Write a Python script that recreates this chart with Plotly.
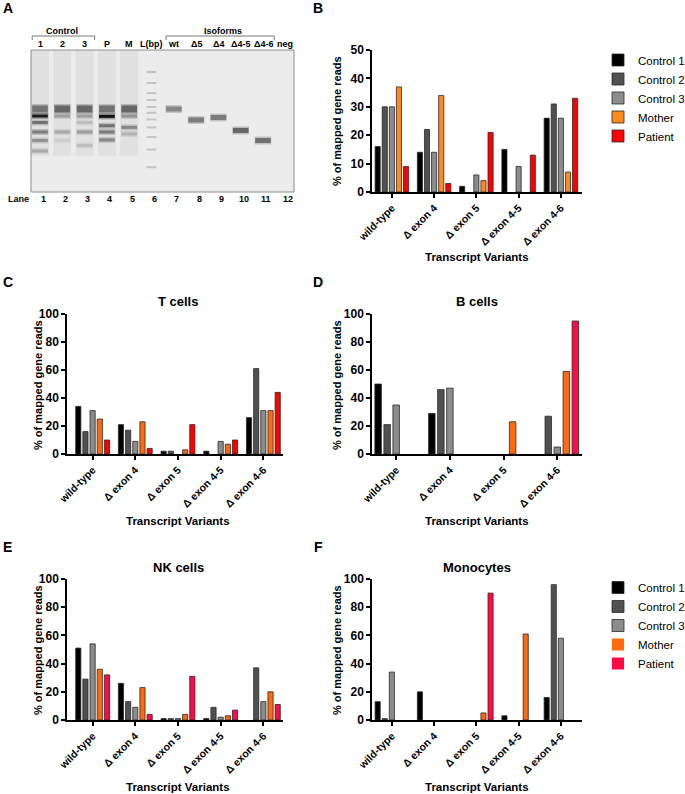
import plotly.graph_objects as go

W, H = 685, 794
FONT = "Arial, Liberation Sans, sans-serif"

# ---------------- data ----------------
variants = ["wild-type", "Δ exon 4", "Δ exon 5", "Δ exon 4-5", "Δ exon 4-6"]
variants_bcells = ["wild-type", "Δ exon 4", "Δ exon 5", "Δ exon 4-6"]
samples = ["Control 1", "Control 2", "Control 3", "Mother", "Patient"]

# B: whole blood (y max 50)
total_control1 = [16, 14, 2, 15, 26]
total_control2 = [30, 22, 0, 0, 31]
total_control3 = [30, 14, 6, 9, 26]
total_mother = [37, 34, 4, 0, 7]
total_patient = [9, 3, 21, 13, 33]

# C: T cells
tcell_control1 = [34, 21, 2, 2, 26]
tcell_control2 = [16, 17, 2, 0, 61]
tcell_control3 = [31, 9, 0, 9, 31]
tcell_mother = [25, 23, 3, 7, 31]
tcell_patient = [10, 4, 21, 10, 44]

# D: B cells (no exon 4-5 column)
bcell_control1 = [50, 29, 0, 0]
bcell_control2 = [21, 46, 0, 27]
bcell_control3 = [35, 47, 0, 5]
bcell_mother = [0, 0, 23, 59]
bcell_patient = [0, 0, 0, 95]

# E: NK cells
nk_control1 = [51, 26, 1, 1, 0]
nk_control2 = [29, 13, 1, 9, 37]
nk_control3 = [54, 9, 1, 2, 13]
nk_mother = [36, 23, 4, 3, 20]
nk_patient = [32, 4, 31, 7, 11]

# F: Monocytes
mono_control1 = [13, 20, 0, 3, 16]
mono_control2 = [1, 0, 0, 0, 96]
mono_control3 = [34, 0, 0, 0, 58]
mono_mother = [0, 0, 5, 61, 0]
mono_patient = [0, 0, 90, 0, 0]

# A: gel
lane_numbers = list(range(1, 13))
lane_headers = ["1", "2", "3", "P", "M", "L(bp)", "wt", "Δ5", "Δ4", "Δ4-5", "Δ4-6", "neg"]
band_lane = [1, 1, 1, 1, 1, 1, 2, 2, 2, 2, 3, 3, 3, 3, 3, 4, 4, 4, 4, 4, 5, 5, 5, 5, 7, 8, 9, 10, 11]
band_bp = [764, 650, 560, 450, 370, 290, 764, 650, 450, 370, 764, 650, 560, 450, 330,
           764, 645, 520, 450, 375, 764, 650, 500, 430, 764, 593, 628, 466, 370]
band_intensity = [0.55, 0.95, 0.55, 0.5, 0.4, 0.3, 0.6, 0.35, 0.3, 0.12, 0.6, 0.35, 0.2, 0.35, 0.2,
                  0.55, 1.0, 0.55, 0.5, 0.45, 0.6, 0.4, 0.45, 0.25, 0.45, 0.5, 0.5, 0.6, 0.55]
band_kind = ["broad", "sharp", "sharp", "sharp", "sharp", "sharp", "broad", "sharp", "sharp", "sharp",
             "broad", "sharp", "sharp", "sharp", "sharp", "broad", "sharp", "sharp", "sharp", "sharp",
             "broad", "sharp", "sharp", "sharp", "iso", "iso", "iso", "iso", "iso"]
ladder_bp = [1790, 1390, 1100, 940, 800, 700, 600, 500, 400, 300, 200]
ladder_labels = [800, 700, 600, 500, 400, 300, 200]
band_names = ["1", "2", "4", "5"]
band_names_bp = [665, 545, 440, 350]

band_width = {"broad": 7, "sharp": 3, "iso": 5}


def fx(px):
    return px / W


def fy(px):
    return 1 - px / H


fig = go.Figure()

# ---------------- gel (panel A) ----------------
for lane in [1, 2, 3, 4, 5]:
    fig.add_trace(go.Scatter(x=[lane, lane], y=[260, 2900], mode="lines",
                             line=dict(color="rgba(0,0,0,0.05)", width=18),
                             xaxis="x", yaxis="y", showlegend=False, hoverinfo="skip"))

for lane, bp, inten, kind in zip(band_lane, band_bp, band_intensity, band_kind):
    v = int(round(232 - 215 * inten))
    w = band_width[kind]
    fig.add_trace(go.Scatter(x=[lane - 0.37, lane + 0.37], y=[bp, bp], mode="lines",
                             line=dict(color=f"rgba({v},{v},{v},0.35)", width=w + 3),
                             xaxis="x", yaxis="y", showlegend=False, hoverinfo="skip"))
    fig.add_trace(go.Scatter(x=[lane - 0.35, lane + 0.35], y=[bp, bp], mode="lines",
                             line=dict(color=f"rgb({v},{v},{v})", width=w),
                             xaxis="x", yaxis="y", showlegend=False, hoverinfo="skip"))

for bp in ladder_bp:
    fig.add_trace(go.Scatter(x=[5.78, 6.22], y=[bp, bp], mode="lines",
                             line=dict(color="#c4c4c4", width=2),
                             xaxis="x", yaxis="y", showlegend=False, hoverinfo="skip"))

annotations = []
gel_font = dict(family=FONT, size=9, color="black", weight="bold")

for lane, lab in zip(lane_numbers, lane_headers):
    annotations.append(dict(x=lane, y=fy(44), xref="x", yref="paper", text=lab, showarrow=False,
                            font=gel_font, xanchor="center", yanchor="middle"))
    annotations.append(dict(x=lane, y=fy(199), xref="x", yref="paper", text=str(lane), showarrow=False,
                            font=gel_font, xanchor="center", yanchor="middle", xshift=3))
annotations.append(dict(x=fx(18), y=fy(199), xref="paper", yref="paper", text="Lane", showarrow=False,
                        font=gel_font, xanchor="center", yanchor="middle"))
annotations.append(dict(x=2, y=fy(31), xref="x", yref="paper", text="Control", showarrow=False,
                        font=gel_font, xanchor="center", yanchor="middle"))
annotations.append(dict(x=9.2, y=fy(31), xref="x", yref="paper", text="Isoforms", showarrow=False,
                        font=gel_font, xanchor="center", yanchor="middle"))
for lab, bp in zip(band_names, band_names_bp):
    annotations.append(dict(x=0.6, y=bp, xref="x", yref="y", text=lab, showarrow=False,
                            font=gel_font, xanchor="right", yanchor="middle", xshift=-1))
annotations.append(dict(x=3.6, y=520, xref="x", yref="y", text="3*", showarrow=False,
                        font=gel_font, xanchor="center", yanchor="middle"))
for bp in ladder_labels:
    annotations.append(dict(x=6.25, y=bp, xref="x", yref="y", text=str(bp), showarrow=False,
                            font=dict(family=FONT, size=8, color="#555"), xanchor="center",
                            yanchor="middle"))

shapes = [
    dict(type="rect", xref="x domain", yref="y domain", x0=0, x1=1, y0=0, y1=1,
         fillcolor="#ececec", line=dict(color="#8c8c8c", width=1), layer="below"),
]
for x0, x1 in [(0.65, 3.45), (6.65, 11.5)]:
    shapes.append(dict(type="path", xref="x", yref="paper",
                       path=f"M {x0},{fy(40)} L {x0},{fy(36)} L {x1},{fy(36)} L {x1},{fy(40)}",
                       line=dict(color="#777", width=1)))

# ---------------- bar panels ----------------
colors_grey = ["#000000", "#505050", "#8c8c8c"]
panels = [
    # axis suffix, categories, series, mother colour, patient colour, legend
    ("2", variants, [total_control1, total_control2, total_control3, total_mother, total_patient],
     "#ff8a1c", "#ff0000", "legend"),
    ("3", variants, [tcell_control1, tcell_control2, tcell_control3, tcell_mother, tcell_patient],
     "#ff6a10", "#ff0000", None),
    ("4", variants_bcells, [bcell_control1, bcell_control2, bcell_control3, bcell_mother, bcell_patient],
     "#ff6a10", "#ff0a45", None),
    ("5", variants, [nk_control1, nk_control2, nk_control3, nk_mother, nk_patient],
     "#ff6a10", "#ff0a45", None),
    ("6", variants, [mono_control1, mono_control2, mono_control3, mono_mother, mono_patient],
     "#ff6a10", "#ff0a45", "legend2"),
]

for suffix, cats, series, c_mother, c_patient, leg in panels:
    cols = colors_grey + [c_mother, c_patient]
    for name, vals, col in zip(samples, series, cols):
        # no outline on empty bars so they stay invisible
        edge = [0 if v == 0 else 0.8 for v in vals]
        fig.add_trace(go.Bar(
            x=cats, y=vals, name=name, marker=dict(color=col, line=dict(color="#2a2a2a", width=edge)),
            xaxis="x" + suffix, yaxis="y" + suffix,
            showlegend=leg is not None, legend=leg if leg else "legend",
        ))

tick_font = dict(family=FONT, size=12, color="black", weight="bold")
cat_font = dict(family=FONT, size=10.5, color="black", weight="bold")


def xaxis_bar(left, right, anchor, rng):
    return dict(domain=[fx(left), fx(right)], anchor=anchor, type="category", range=rng,
                showline=True, linecolor="black", linewidth=1.5, ticks="outside", ticklen=4,
                tickwidth=1.5, tickcolor="black", showgrid=False, zeroline=False, tickangle=-45,
                tickfont=cat_font, automargin=False)


def yaxis_bar(top, bottom, anchor, ymax, dtick):
    return dict(domain=[fy(bottom), fy(top)], anchor=anchor, range=[0, ymax], dtick=dtick,
                showline=True, linecolor="black", linewidth=1.5, ticks="outside", ticklen=4,
                tickwidth=1.5, tickcolor="black", showgrid=False, zeroline=False, tickfont=tick_font,
                automargin=False)


title_font = dict(family=FONT, size=13, color="black", weight="bold")
lab_font = dict(family=FONT, size=11, color="black", weight="bold")

# y-axis titles, x-axis titles, panel titles
for xc, yc in [(337, 121), (38, 385), (337, 385), (38, 650), (337, 650)]:
    annotations.append(dict(x=fx(xc), y=fy(yc), xref="paper", yref="paper", text="% of mapped gene reads",
                            textangle=-90, showarrow=False, font=lab_font, xanchor="center", yanchor="middle"))
for xc, yc in [(477, 257), (178, 521), (477, 521), (178, 787), (477, 787)]:
    annotations.append(dict(x=fx(xc), y=fy(yc), xref="paper", yref="paper", text="Transcript Variants",
                            showarrow=False, font=dict(family=FONT, size=11.5, color="black", weight="bold"),
                            xanchor="center", yanchor="middle"))
for txt, xc, yc in [("T cells", 178, 302), ("B cells", 477, 302), ("NK cells", 178, 567), ("Monocytes", 477, 567)]:
    annotations.append(dict(x=fx(xc), y=fy(yc), xref="paper", yref="paper", text=txt, showarrow=False,
                            font=title_font, xanchor="center", yanchor="middle"))
for txt, xc, yc in [("A", 8, 8), ("B", 318, 8), ("C", 8, 282), ("D", 318, 282), ("E", 8, 547), ("F", 318, 547)]:
    annotations.append(dict(x=fx(xc), y=fy(yc), xref="paper", yref="paper", text=txt, showarrow=False,
                            font=dict(family=FONT, size=14, color="black", weight="bold"),
                            xanchor="center", yanchor="middle"))

leg_font = dict(family=FONT, size=11.5, color="black")

fig.update_layout(
    template="none",
    width=W, height=H,
    margin=dict(l=0, r=0, t=0, b=0, pad=0, autoexpand=False),
    paper_bgcolor="white", plot_bgcolor="white",
    barmode="group", bargap=0.16, bargroupgap=0.28,
    font=dict(family=FONT, color="black"),
    xaxis=dict(domain=[fx(31), fx(294)], anchor="y", range=[0.596, 12.39], visible=False),
    yaxis=dict(domain=[fy(192), fy(50)], anchor="x", type="log", range=[2.053, 3.473], visible=False),
    xaxis2=xaxis_bar(372, 582, "y2", [-0.47, 4.5]),
    yaxis2=yaxis_bar(50, 192, "x2", 50, 10),
    xaxis3=xaxis_bar(67, 283, "y3", [-0.6, 4.46]),
    yaxis3=yaxis_bar(314, 454, "x3", 100, 20),
    xaxis4=xaxis_bar(372, 582, "y4", [-0.45, 3.46]),
    yaxis4=yaxis_bar(314, 454, "x4", 100, 20),
    xaxis5=xaxis_bar(67, 283, "y5", [-0.6, 4.46]),
    yaxis5=yaxis_bar(579, 720, "x5", 100, 20),
    xaxis6=xaxis_bar(372, 582, "y6", [-0.47, 4.5]),
    yaxis6=yaxis_bar(579, 720, "x6", 100, 20),
    legend=dict(x=fx(598), y=fy(45.5), xanchor="left", yanchor="top", font=leg_font,
                bgcolor="rgba(0,0,0,0)", itemwidth=30, traceorder="normal"),
    legend2=dict(x=fx(598), y=fy(573), xanchor="left", yanchor="top", font=leg_font,
                 bgcolor="rgba(0,0,0,0)", itemwidth=30, traceorder="normal"),
    annotations=annotations,
    shapes=shapes,
    showlegend=True,
)

# page body has a default 8px margin; drop it so the figure fills the window
fig.write_html("out.html", config={"displayModeBar": False},
               post_script="document.body.style.margin='0';")
